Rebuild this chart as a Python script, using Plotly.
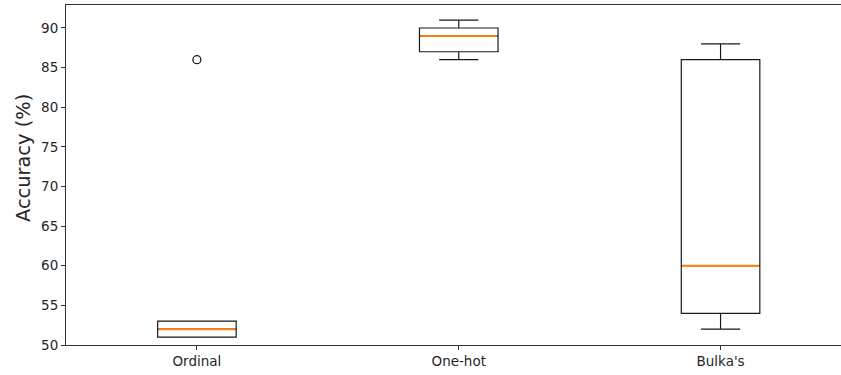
import plotly.graph_objects as go

categories = ["Ordinal", "One-hot", "Bulka's"]
positions = [1, 2, 3]
q1 = [51, 87, 54]
median = [52, 89, 60]
q3 = [53, 90, 86]
lower_whisker = [51, 86, 52]
upper_whisker = [53, 91, 88]
outliers = [[86], [], []]
y_ticks = [50, 55, 60, 65, 70, 75, 80, 85, 90]

BOX_W = 0.3
fig = go.Figure()
for i, cat in enumerate(categories):
    fig.add_trace(go.Box(
        x=[positions[i]], q1=[q1[i]], median=[median[i]], q3=[q3[i]],
        lowerfence=[lower_whisker[i]], upperfence=[upper_whisker[i]],
        width=BOX_W, whiskerwidth=0.5, fillcolor="rgba(0,0,0,0)",
        line=dict(color="#1a1a1a", width=1.2), boxpoints=False,
        showlegend=False, hoverinfo="skip", name=cat,
    ))
    fig.add_trace(go.Scatter(
        x=[positions[i] - BOX_W / 2 + 0.004, positions[i] + BOX_W / 2 - 0.004],
        y=[median[i], median[i]], mode="lines",
        line=dict(color="#ff7f0e", width=2), showlegend=False, hoverinfo="skip",
    ))
    if outliers[i]:
        fig.add_trace(go.Scatter(
            x=[positions[i]] * len(outliers[i]), y=outliers[i], mode="markers",
            marker=dict(symbol="circle-open", size=8, color="#1a1a1a", line=dict(width=1.3)),
            showlegend=False, hoverinfo="skip",
        ))

fig.update_layout(
    width=841, height=375,
    margin=dict(l=66, r=0, t=5, b=30),
    plot_bgcolor="white", paper_bgcolor="white",
    font=dict(family="DejaVu Sans", size=13.5, color="#262626"),
    annotations=[dict(
        text="Accuracy (%)", textangle=-90, xref="paper", yref="paper",
        x=-0.055, y=0.551, xanchor="center", yanchor="middle", showarrow=False,
        font=dict(size=19.4, color="#262626"),
    )],
)
fig.update_xaxes(
    range=[0.5, 3.46], tickvals=positions, ticktext=categories,
    showline=True, mirror=True, linecolor="#333333", linewidth=1,
    ticks="outside", ticklen=4, tickcolor="#333333", showgrid=False, zeroline=False,
)
fig.update_yaxes(
    range=[50, 92.9], tickvals=y_ticks,
    showline=True, mirror=False, linecolor="#333333", linewidth=1,
    ticks="outside", ticklen=4, tickcolor="#333333", showgrid=False, zeroline=False,
)
fig.write_html("out.html", config={"displayModeBar": False},
               post_script="document.body.style.margin='0';")
